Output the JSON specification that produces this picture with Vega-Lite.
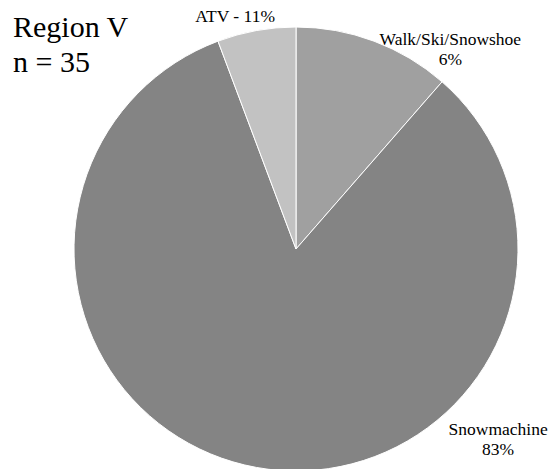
{
  "$schema": "https://vega.github.io/schema/vega-lite/v6.json",
  "width": 512,
  "height": 438,
  "autosize": "none",
  "padding": {"left": 40, "top": 30, "right": 2, "bottom": 1},
  "background": "white",
  "title": {
    "text": ["Region V", "n = 35"],
    "orient": "none",
    "anchor": "start",
    "frame": "group",
    "baseline": "alphabetic",
    "font": "Liberation Serif",
    "fontSize": 30,
    "fontWeight": "normal",
    "color": "black",
    "lineHeight": 35,
    "offset": 0,
    "dx": -27,
    "dy": 7
  },
  "data": {
    "values": [
      {"mode": "Walk/Ski/Snowshoe", "count": 4, "order": 1, "label": ["Walk/Ski/Snowshoe", "6%"]},
      {"mode": "Snowmachine", "count": 29, "order": 2, "label": ["Snowmachine", "83%"]},
      {"mode": "ATV", "count": 2, "order": 3, "label": "ATV - 11%"}
    ]
  },
  "encoding": {
    "theta": {"field": "count", "type": "quantitative", "stack": true},
    "order": {"field": "order", "type": "quantitative"}
  },
  "layer": [
    {
      "mark": {"type": "arc", "radius": 222, "stroke": "white", "strokeWidth": 1},
      "encoding": {
        "color": {
          "field": "mode",
          "type": "nominal",
          "scale": {"domain": ["Walk/Ski/Snowshoe", "Snowmachine", "ATV"], "range": ["#a0a0a0", "#848484", "#c2c2c2"]},
          "legend": null
        }
      }
    },
    {
      "mark": {"type": "text", "radius": 240, "font": "Liberation Serif", "fontSize": 17.5, "lineHeight": 20, "align": "center", "baseline": "middle", "color": "black", "dx": 70, "dy": 16},
      "encoding": {"text": {"condition": {"test": "datum.mode === 'Walk/Ski/Snowshoe'", "field": "label"}, "value": ""}}
    },
    {
      "mark": {"type": "text", "radius": 240, "font": "Liberation Serif", "fontSize": 17.5, "lineHeight": 20, "align": "center", "baseline": "middle", "color": "black", "dx": 245, "dy": -55},
      "encoding": {"text": {"condition": {"test": "datum.mode === 'Snowmachine'", "field": "label"}, "value": ""}}
    },
    {
      "mark": {"type": "text", "radius": 240, "font": "Liberation Serif", "fontSize": 17.5, "lineHeight": 20, "align": "center", "baseline": "middle", "color": "black", "dx": -18, "dy": 4},
      "encoding": {"text": {"condition": {"test": "datum.mode === 'ATV'", "field": "label"}, "value": ""}}
    }
  ]
}
